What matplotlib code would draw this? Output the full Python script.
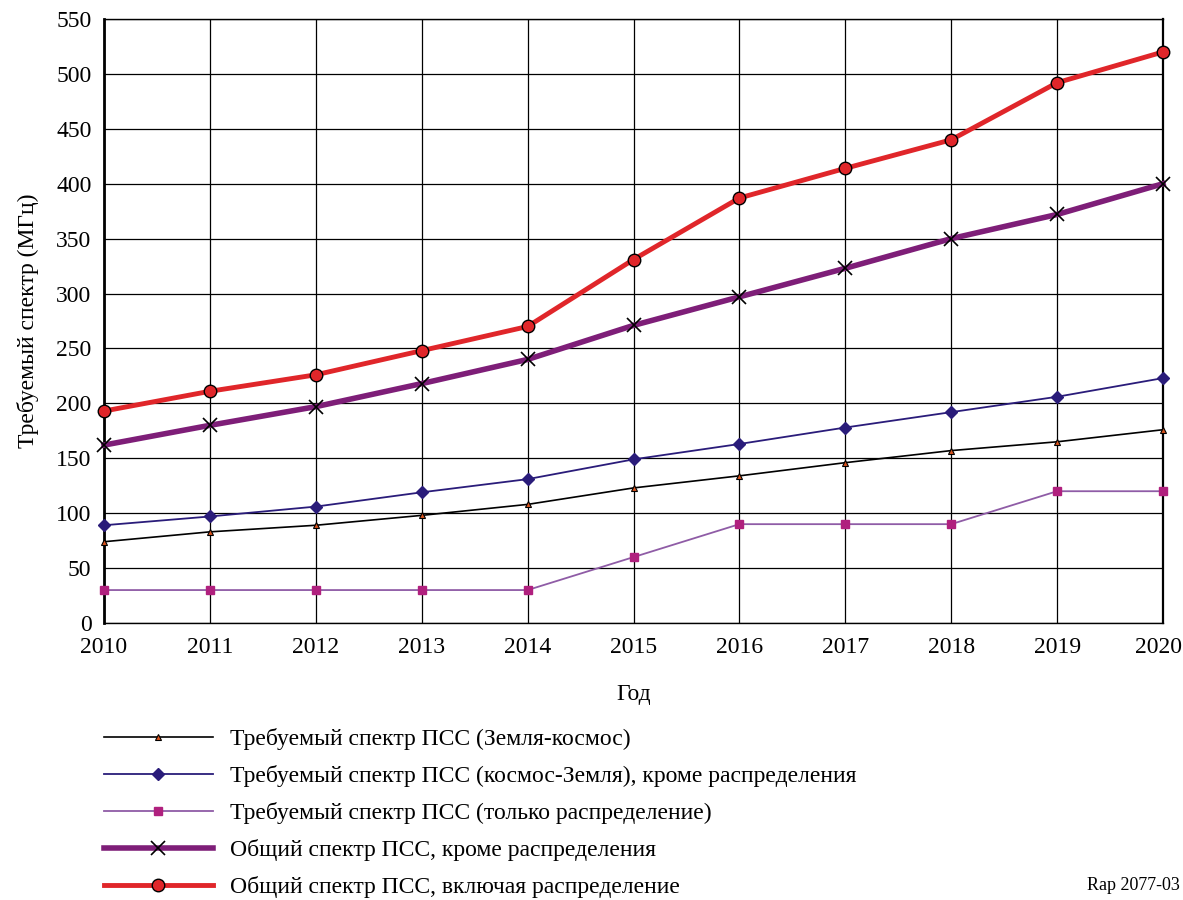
import matplotlib
matplotlib.use("Agg")
import matplotlib.pyplot as plt
import matplotlib.transforms as mtransforms

plt.rcParams['font.family'] = ['Liberation Serif', 'DejaVu Serif']

years = [2010, 2011, 2012, 2013, 2014, 2015, 2016, 2017, 2018, 2019, 2020]

# Требуемый спектр ПСС (Земля-космос)
earth_space = [74, 83, 89, 98, 108, 123, 134, 146, 157, 165, 176]
# Требуемый спектр ПСС (космос-Земля), кроме распределения
space_earth = [89, 97, 106, 119, 131, 149, 163, 178, 192, 206, 223]
# Требуемый спектр ПСС (только распределение)
distribution = [30, 30, 30, 30, 30, 60, 90, 90, 90, 120, 120]
# Общий спектр ПСС, кроме распределения
total_excl = [162, 180, 197, 218, 240, 271, 297, 323, 350, 372, 400]
# Общий спектр ПСС, включая распределение
total_incl = [193, 211, 226, 248, 270, 331, 387, 414, 440, 492, 520]

labels = [
    "Требуемый спектр ПСС (Земля-космос)",
    "Требуемый спектр ПСС (космос-Земля), кроме распределения",
    "Требуемый спектр ПСС (только распределение)",
    "Общий спектр ПСС, кроме распределения",
    "Общий спектр ПСС, включая распределение",
]

fig = plt.figure(figsize=(11.83, 9), dpi=100)
ax = fig.add_axes([104 / 1183, 1 - 623 / 900, (1163 - 104) / 1183, (623 - 19) / 900])

ax.plot(years, earth_space, color="black", lw=1.2, marker="^", ms=5,
        mfc="#D9541E", mec="black", mew=0.8, label=labels[0], clip_on=False, zorder=3)
ax.plot(years, space_earth, color="#2A1C7A", lw=1.3, marker="D", ms=6.5,
        mfc="#2A1C7A", mec="#2A1C7A", label=labels[1], clip_on=False, zorder=3)
ax.plot(years, distribution, color="#8F5CA6", lw=1.3, marker="s", ms=5.5,
        mfc="#B0207E", mec="#B0207E", label=labels[2], clip_on=False, zorder=3)
ax.plot(years, total_excl, color="#7E1E78", lw=4, marker="x", ms=10,
        mfc="black", mec="black", mew=1.2, label=labels[3], clip_on=False, zorder=4)
ax.plot(years, total_incl, color="#E0262A", lw=3.5, marker="o", ms=9,
        mfc="#E0262A", mec="black", mew=1.0, label=labels[4], clip_on=False, zorder=5)

ax.set_xlim(2010, 2020)
ax.set_ylim(0, 550)
ax.set_xticks(years)
ax.set_yticks(range(0, 551, 50))
ax.tick_params(length=0, labelsize=17)
ax.tick_params(axis="x", pad=10)
ax.tick_params(axis="y", pad=9)
ax.grid(True, color="black", lw=0.9)
ax.set_axisbelow(True)
for sp in ax.spines.values():
    sp.set_color("black")
    sp.set_linewidth(1.0)
ax.spines["left"].set_linewidth(2.0)
ax.spines["right"].set_linewidth(1.6)

# keep the last year label inside the figure
last = ax.get_xticklabels()[-1]
last.set_transform(last.get_transform() + mtransforms.ScaledTranslation(-5 / 100, 0, fig.dpi_scale_trans))

ax.set_xlabel("Год", fontsize=17, labelpad=19)
ax.set_ylabel("Требуемый спектр (МГц)", fontsize=17, labelpad=12)

fig.legend(loc="upper left", bbox_to_anchor=(104 / 1183, 1 - 728 / 900),
           frameon=False, fontsize=17, handlelength=4.6, handletextpad=0.75,
           labelspacing=0.64, borderpad=0, borderaxespad=0)

fig.text(1180 / 1183, 1 - 886 / 900, "Rap 2077-03", fontsize=13, ha="right", va="center")

fig.savefig("out.png", dpi=100)
